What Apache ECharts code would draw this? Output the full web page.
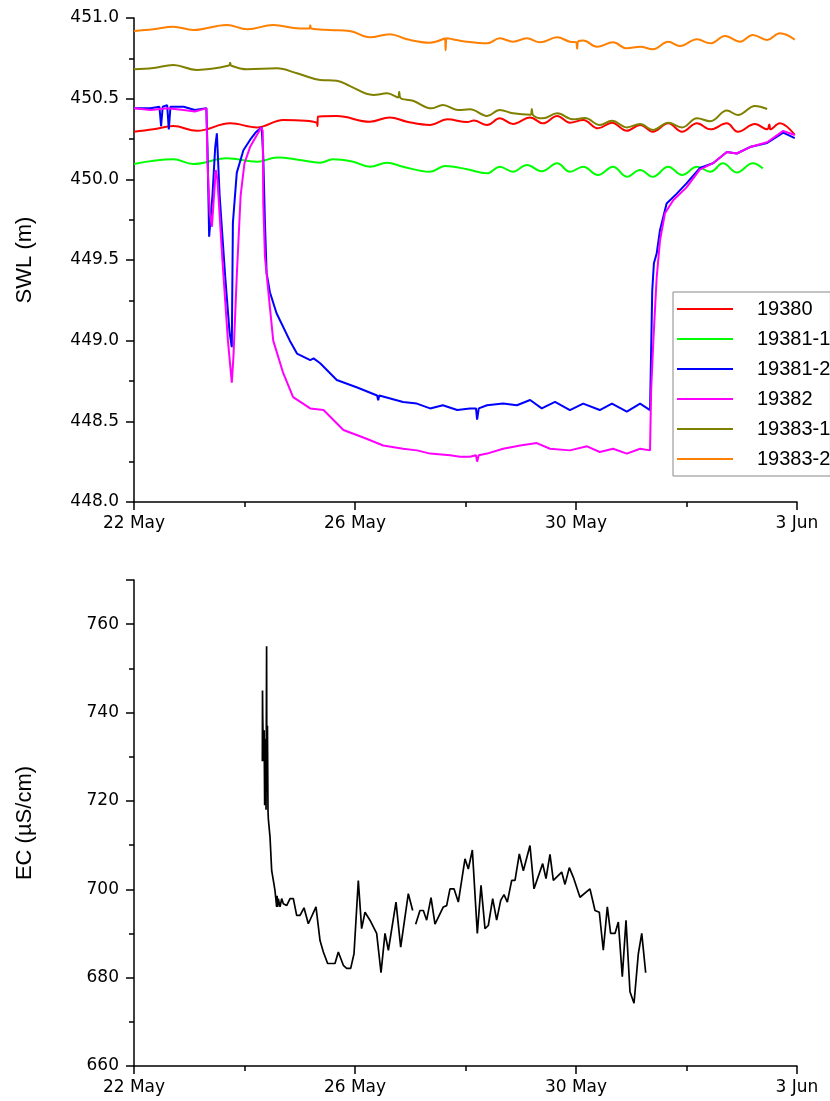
<!DOCTYPE html>
<html>
<head>
<meta charset="utf-8">
<script src="https://cdn.jsdelivr.net/npm/echarts@6/dist/echarts.min.js"></script>
<style>html,body{margin:0;padding:0;background:#fff}#c{width:830px;height:1101px}</style>
</head>
<body>
<div id="c"></div>
<script>
// x values are days since 22 May 00:00
const xTickDays = [0, 4, 8, 12];
const xTickLabels = ['22 May', '26 May', '30 May', '3 Jun'];
const seriesNames = ['19380', '19381-1', '19381-2', '19382', '19383-1', '19383-2'];
const seriesColors = ['#FF0000', '#00FF00', '#0000FF', '#FF00FF', '#808000', '#FF8000'];

const s19380 = [[0,450.295],[0.35,450.31],[0.71,450.33],[1.14,450.301],[1.74,450.347],[2.23,450.322],[2.70,450.368],[3.31,450.351],[3.32,450.33],[3.33,450.388],[3.67,450.392],[4.27,450.357],[4.63,450.384],[4.94,450.357],[5.36,450.337],[5.67,450.372],[6.03,450.355],[6.15,450.364],[6.39,450.337],[6.62,450.378],[6.86,450.343],[7.17,450.384],[7.40,450.347],[7.66,450.392],[7.89,450.351],[8.13,450.368],[8.40,450.316],[8.65,450.351],[8.92,450.301],[9.16,450.337],[9.39,450.295],[9.67,450.347],[9.92,450.295],[10.19,450.347],[10.43,450.31],[10.73,450.347],[10.93,450.295],[11.24,450.343],[11.46,450.31],[11.50,450.34],[11.52,450.31],[11.69,450.347],[11.96,450.275]];

const s19381_1 = [[0,450.095],[0.71,450.124],[1.07,450.095],[1.68,450.13],[2.23,450.109],[2.59,450.136],[3.0,450.12],[3.37,450.103],[3.60,450.124],[3.95,450.11],[4.27,450.078],[4.58,450.103],[4.87,450.078],[5.36,450.047],[5.63,450.083],[6.03,450.062],[6.39,450.037],[6.62,450.078],[6.86,450.047],[7.11,450.089],[7.38,450.05],[7.66,450.099],[7.89,450.047],[8.13,450.078],[8.40,450.027],[8.67,450.078],[8.92,450.016],[9.16,450.058],[9.39,450.016],[9.67,450.078],[9.92,450.027],[10.19,450.078],[10.43,450.047],[10.66,450.099],[10.91,450.043],[11.2,450.099],[11.38,450.068]];

const s19381_2 = [[0,450.44],[0.3,450.44],[0.46,450.45],[0.49,450.33],[0.52,450.45],[0.6,450.46],[0.63,450.31],[0.66,450.45],[0.9,450.45],[1.1,450.43],[1.31,450.44],[1.33,450.2],[1.36,449.644],[1.42,449.9],[1.47,450.2],[1.50,450.285],[1.55,449.9],[1.65,449.4],[1.73,449.05],[1.77,448.96],[1.79,449.73],[1.86,450.04],[1.98,450.18],[2.10,450.244],[2.20,450.29],[2.31,450.322],[2.34,450.14],[2.37,449.73],[2.40,449.42],[2.46,449.30],[2.58,449.17],[2.82,449.0],[2.95,448.92],[3.19,448.88],[3.25,448.89],[3.37,448.86],[3.67,448.756],[4.04,448.71],[4.40,448.66],[4.42,448.63],[4.44,448.66],[4.87,448.62],[5.12,448.61],[5.36,448.58],[5.59,448.60],[5.85,448.57],[6.08,448.58],[6.19,448.58],[6.21,448.51],[6.24,448.58],[6.39,448.60],[6.68,448.61],[6.93,448.60],[7.17,448.632],[7.38,448.58],[7.62,448.62],[7.89,448.57],[8.13,448.61],[8.43,448.57],[8.65,448.61],[8.92,448.56],[9.16,448.61],[9.34,448.57],[9.38,449.31],[9.41,449.48],[9.46,449.54],[9.52,449.685],[9.64,449.85],[9.82,449.91],[10.0,449.975],[10.24,450.07],[10.48,450.10],[10.73,450.17],[10.91,450.16],[11.15,450.20],[11.46,450.225],[11.75,450.29],[11.96,450.256]];

const s19382 = [[0,450.44],[0.3,450.43],[0.6,450.44],[0.9,450.43],[1.1,450.42],[1.31,450.44],[1.33,450.1],[1.37,449.8],[1.41,449.706],[1.48,450.058],[1.51,450.0],[1.6,449.5],[1.7,449.0],[1.77,448.74],[1.80,448.9],[1.86,449.4],[1.93,449.9],[2.0,450.1],[2.1,450.2],[2.3,450.32],[2.33,450.3],[2.34,449.85],[2.37,449.52],[2.43,449.31],[2.52,449.0],[2.70,448.8],[2.88,448.65],[3.19,448.58],[3.43,448.57],[3.79,448.446],[4.15,448.40],[4.51,448.35],[4.87,448.33],[5.12,448.32],[5.36,448.30],[5.72,448.29],[5.90,448.28],[6.08,448.28],[6.19,448.29],[6.21,448.25],[6.24,448.29],[6.39,448.30],[6.68,448.33],[6.99,448.35],[7.29,448.365],[7.53,448.33],[7.89,448.32],[8.20,448.345],[8.43,448.31],[8.67,448.33],[8.92,448.30],[9.16,448.33],[9.34,448.32],[9.36,448.69],[9.40,449.0],[9.46,449.39],[9.52,449.62],[9.61,449.79],[9.76,449.87],[10.0,449.95],[10.24,450.06],[10.48,450.10],[10.73,450.17],[10.91,450.16],[11.15,450.20],[11.46,450.23],[11.75,450.30],[11.96,450.275]];

const s19383_1 = [[0,450.682],[0.35,450.69],[0.71,450.709],[1.14,450.678],[1.72,450.705],[1.74,450.723],[1.76,450.705],[2.05,450.682],[2.59,450.688],[2.95,450.657],[3.37,450.616],[3.67,450.611],[3.91,450.578],[4.33,450.523],[4.58,450.533],[4.78,450.508],[4.80,450.543],[4.82,450.505],[5.05,450.487],[5.39,450.44],[5.59,450.461],[5.86,450.43],[6.08,450.434],[6.39,450.393],[6.62,450.43],[6.86,450.409],[7.18,450.40],[7.20,450.436],[7.22,450.40],[7.40,450.378],[7.66,450.409],[7.95,450.372],[8.16,450.38],[8.43,450.337],[8.65,450.363],[8.92,450.322],[9.16,450.343],[9.39,450.306],[9.67,450.351],[9.92,450.322],[10.19,450.378],[10.43,450.36],[10.73,450.426],[10.93,450.399],[11.24,450.455],[11.46,450.436]];

const s19383_2 = [[0,450.92],[0.35,450.93],[0.71,450.946],[1.07,450.926],[1.68,450.957],[2.05,450.93],[2.52,450.957],[3.0,450.935],[3.18,450.935],[3.19,450.955],[3.21,450.935],[3.55,450.926],[3.9,450.92],[4.27,450.88],[4.63,450.90],[4.94,450.868],[5.36,450.847],[5.63,450.874],[5.64,450.80],[5.66,450.874],[6.03,450.853],[6.39,450.843],[6.62,450.874],[6.86,450.853],[7.11,450.874],[7.35,450.849],[7.66,450.88],[7.89,450.853],[8.0,450.85],[8.02,450.81],[8.04,450.855],[8.13,450.86],[8.38,450.822],[8.67,450.849],[8.92,450.812],[9.16,450.822],[9.39,450.806],[9.67,450.853],[9.88,450.826],[10.19,450.868],[10.43,450.843],[10.70,450.888],[10.97,450.853],[11.2,450.895],[11.46,450.864],[11.69,450.905],[11.96,450.866]];

const ecData = [[2.323,729],[2.326,745],[2.33,739],[2.338,733],[2.345,729],[2.355,736],[2.365,719],[2.375,734],[2.39,718],[2.40,755],[2.405,722],[2.415,737],[2.425,718],[2.431,716],[2.462,711.8],[2.492,704.2],[2.522,702.0],[2.552,699.7],[2.582,696.0],[2.59,698.5],[2.60,696],[2.612,697.9],[2.643,696.0],[2.673,697.9],[2.703,696.7],[2.763,696.3],[2.824,697.9],[2.884,697.9],[2.944,694.1],[3.005,694.1],[3.077,695.8],[3.155,692.2],[3.294,696.0],[3.367,688.4],[3.427,685.8],[3.505,683.2],[3.638,683.2],[3.698,685.8],[3.789,682.8],[3.849,682.1],[3.922,682.1],[3.982,685.4],[4.06,702.0],[4.12,691.1],[4.181,694.8],[4.271,693.0],[4.392,690.0],[4.471,681.1],[4.543,690.0],[4.604,686.2],[4.742,697.1],[4.827,686.9],[4.965,699.0],[5.044,695.2],[5.07,null],[5.098,692.1],[5.176,695.2],[5.237,695.2],[5.297,693.0],[5.376,698.1],[5.448,692.1],[5.599,696.0],[5.659,696.3],[5.719,700.1],[5.792,700.1],[5.87,697.1],[5.991,706.9],[6.051,704.6],[6.124,708.9],[6.214,690.0],[6.281,700.9],[6.353,691.1],[6.413,691.8],[6.492,697.9],[6.564,693.0],[6.637,697.5],[6.697,698.8],[6.757,697.1],[6.836,702.0],[6.896,702.0],[6.974,708.0],[7.047,704.2],[7.167,709.9],[7.24,700.1],[7.397,705.8],[7.457,702.4],[7.529,707.9],[7.59,702.0],[7.741,703.9],[7.801,701.1],[7.879,704.9],[7.952,702.7],[8.072,698.2],[8.253,700.1],[8.344,695.2],[8.422,694.8],[8.494,686.2],[8.567,696.0],[8.627,690.0],[8.706,690.0],[8.766,692.6],[8.838,680.2],[8.905,693.0],[8.977,676.8],[9.05,674.2],[9.128,685.4],[9.19,690.0],[9.261,681.1]];

const swlSeries = [s19380, s19381_1, s19381_2, s19382, s19383_1, s19383_2];
const seriesSmooth = [0.4, 0.4, 0, 0, 0.4, 0.4];

const chart = echarts.init(document.getElementById('c'), null, {renderer: 'canvas'});
const tickFont = {fontFamily: 'DejaVu Sans', fontSize: 17, color: '#000'};
const axisLineStyle = {show: true, lineStyle: {color: '#000', width: 1.5}};
function xLabel(v) {
  const i = xTickDays.indexOf(Math.round(v));
  return i >= 0 ? xTickLabels[i] : '';
}
function makeX(gi) {
  return {
    type: 'value', gridIndex: gi, min: 0, max: 12, interval: 4,
    axisLine: axisLineStyle,
    axisTick: {show: true, inside: false, length: 8, lineStyle: {color: '#000', width: 1.5}},
    minorTick: {show: true, splitNumber: 2, length: 5, lineStyle: {color: '#000', width: 1.5}},
    splitLine: {show: false},
    axisLabel: Object.assign({margin: 13, formatter: xLabel}, tickFont)
  };
}

const option = {
  animation: false,
  backgroundColor: '#fff',
  grid: [
    {left: 134, right: 33, top: 18, height: 484, containLabel: false},
    {left: 134, right: 33, top: 580, height: 486, containLabel: false}
  ],
  xAxis: [makeX(0), makeX(1)],
  yAxis: [
    {
      type: 'value', gridIndex: 0, min: 448, max: 451, interval: 0.5,
      name: 'SWL (m)', nameLocation: 'middle', nameGap: 98,
      nameTextStyle: {fontFamily: 'Liberation Sans', fontSize: 22, color: '#000'},
      axisLine: axisLineStyle,
      axisTick: {show: true, inside: false, length: 8, lineStyle: {color: '#000', width: 1.5}},
      minorTick: {show: true, splitNumber: 2, length: 5, lineStyle: {color: '#000', width: 1.5}},
      splitLine: {show: false},
      axisLabel: Object.assign({margin: 15, formatter: v => v.toFixed(1)}, tickFont)
    },
    {
      type: 'value', gridIndex: 1, min: 660, max: 770, interval: 20,
      name: 'EC (µS/cm)', nameLocation: 'middle', nameGap: 98,
      nameTextStyle: {fontFamily: 'Liberation Sans', fontSize: 22, color: '#000'},
      axisLine: axisLineStyle,
      axisTick: {show: true, inside: false, length: 8, lineStyle: {color: '#000', width: 1.5}},
      minorTick: {show: true, splitNumber: 2, length: 5, lineStyle: {color: '#000', width: 1.5}},
      splitLine: {show: false},
      axisLabel: Object.assign({margin: 15, formatter: v => (v > 760 ? '' : String(v))}, tickFont)
    }
  ],
  legend: {
    orient: 'vertical', left: 673, top: 292,
    data: seriesNames,
    icon: 'rect', itemWidth: 56, itemHeight: 2, itemGap: 10,
    padding: [7, 0, 7, 4],
    backgroundColor: '#fff', borderColor: '#888', borderWidth: 1,
    textStyle: {fontFamily: 'Liberation Sans', fontSize: 20, color: '#000', lineHeight: 20, padding: [0, 0, 0, 19]}
  },
  series: swlSeries.map((d, i) => ({
    name: seriesNames[i], type: 'line', xAxisIndex: 0, yAxisIndex: 0,
    data: d, showSymbol: false, symbol: 'none',
    smooth: seriesSmooth[i] || false,
    itemStyle: {color: seriesColors[i]},
    lineStyle: {color: seriesColors[i], width: 2}
  })).concat([{
    name: 'EC', type: 'line', xAxisIndex: 1, yAxisIndex: 1,
    data: ecData, showSymbol: false, symbol: 'none', connectNulls: false,
    itemStyle: {color: '#000'},
    lineStyle: {color: '#000', width: 1.7}
  }])
};
chart.setOption(option);
</script>
</body>
</html>
